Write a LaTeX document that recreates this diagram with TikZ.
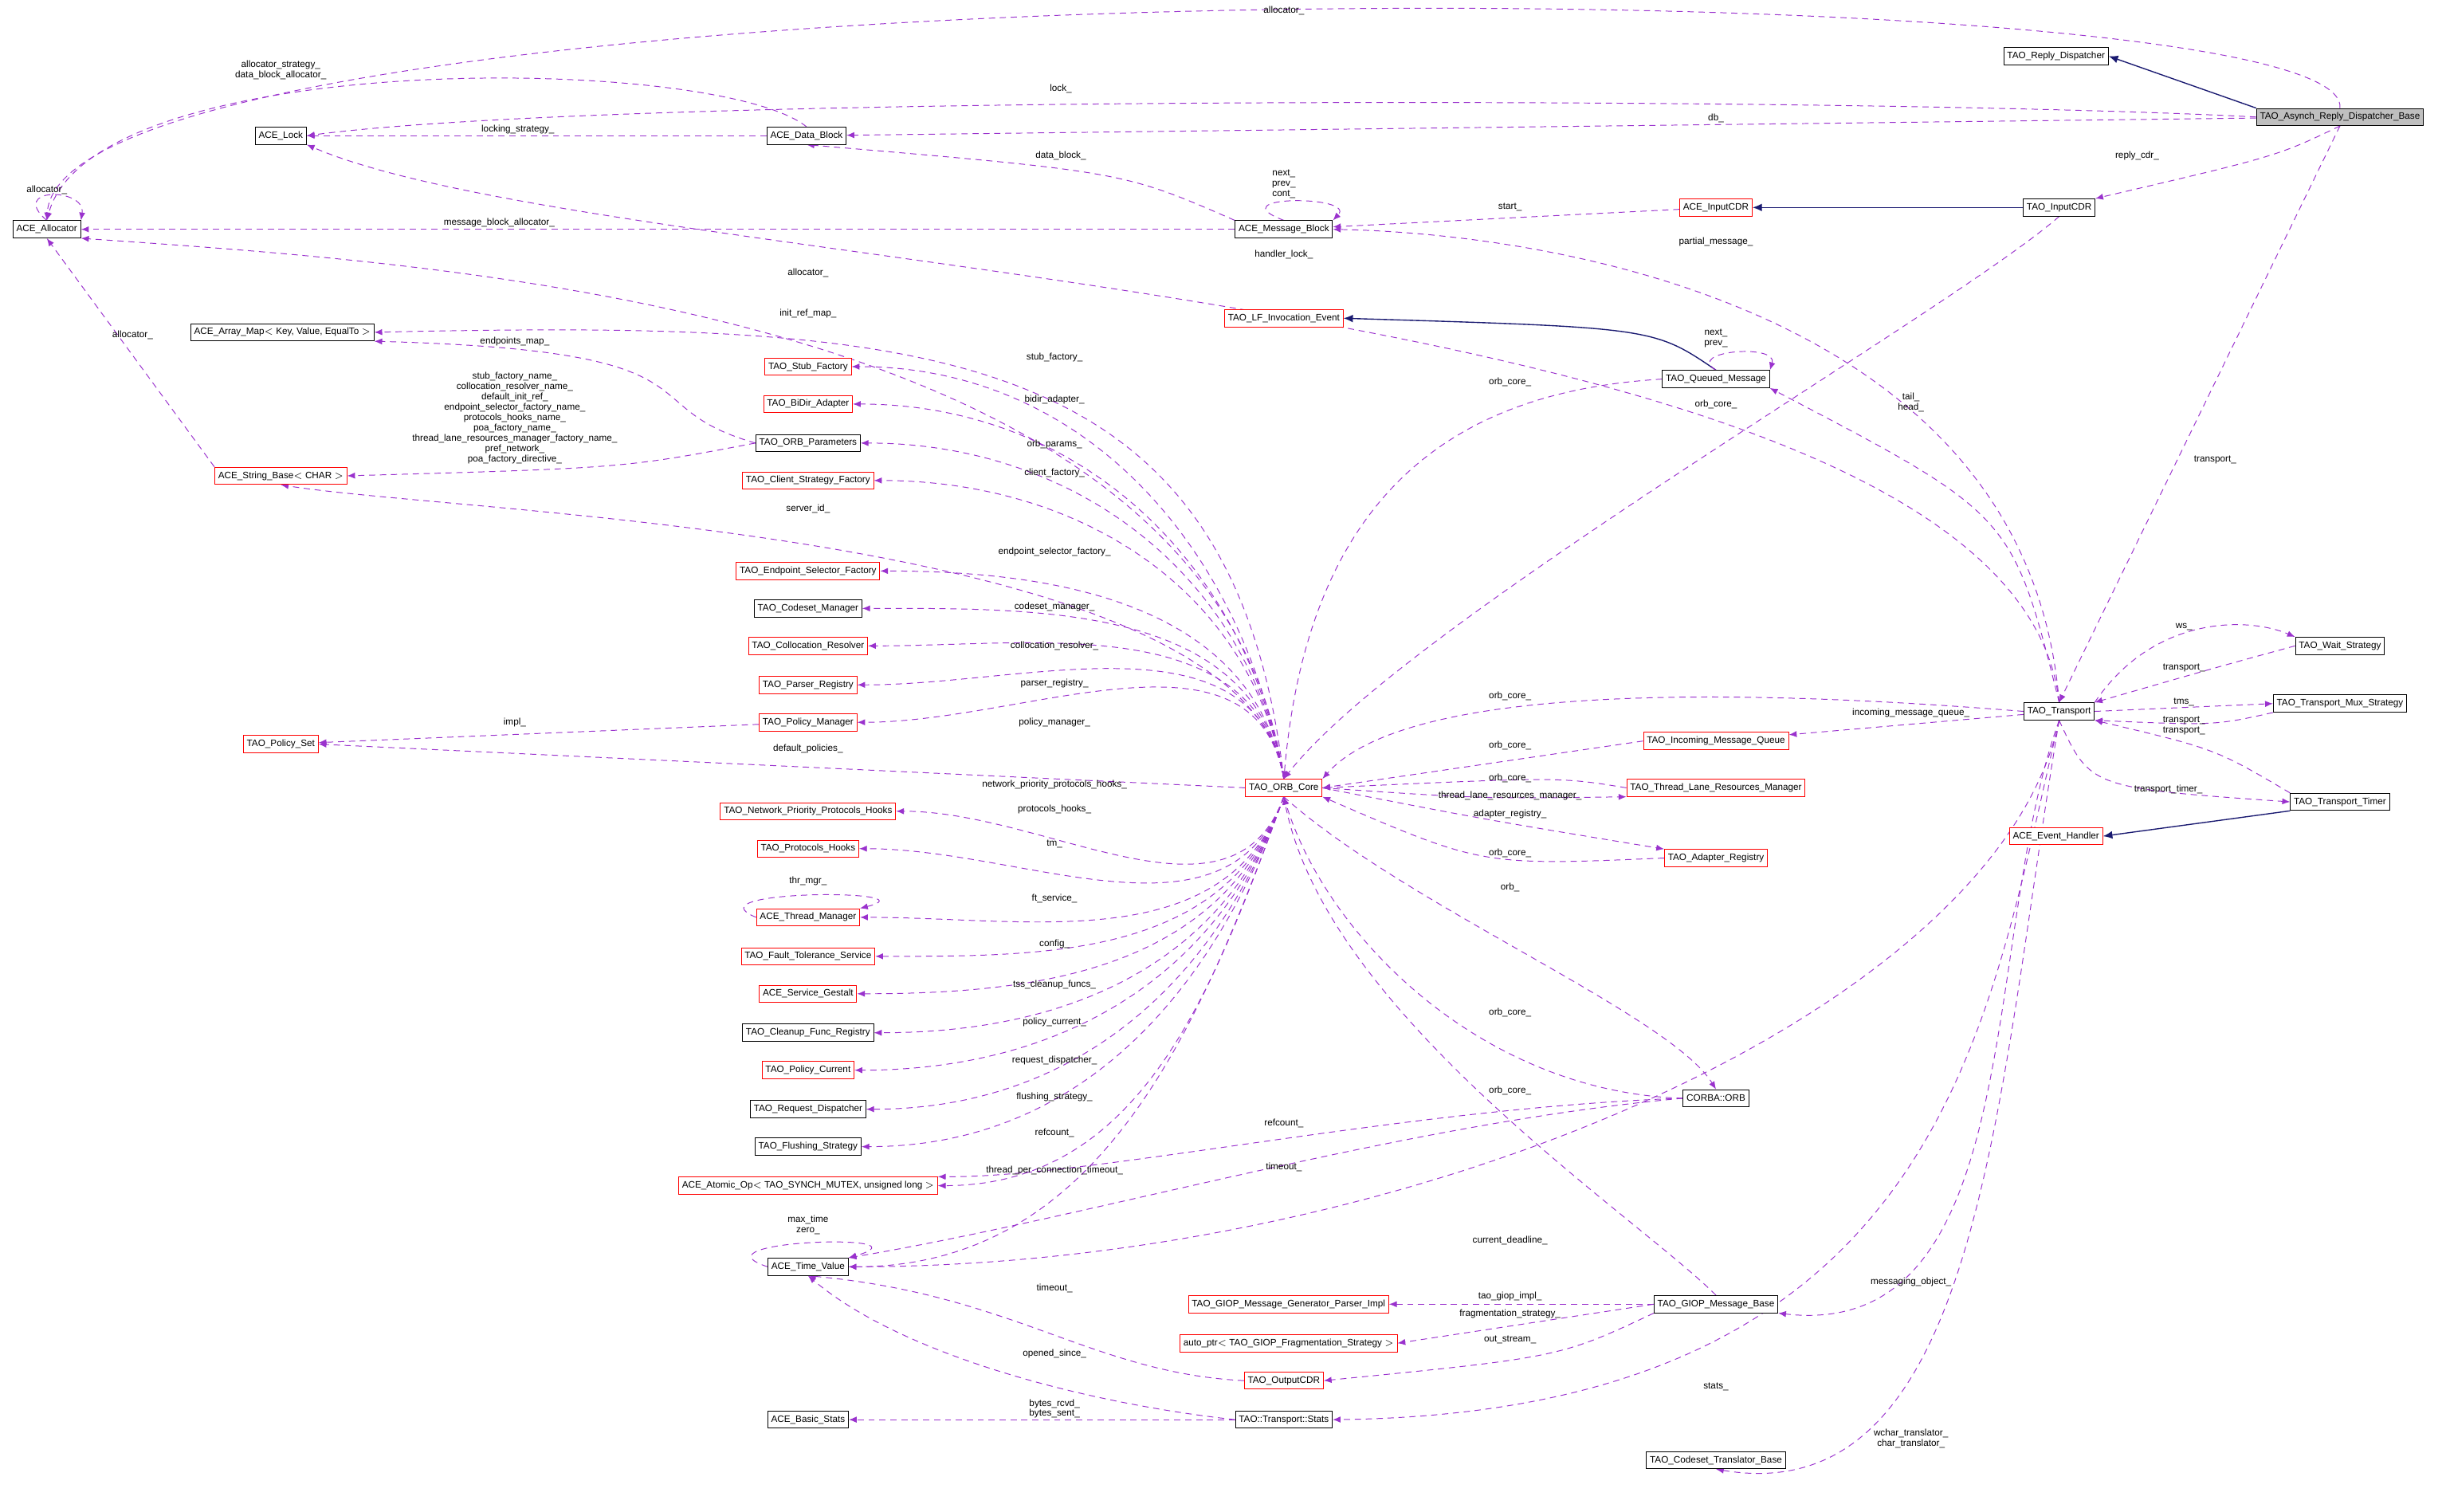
\documentclass[tikz,border=0pt]{standalone}
\usepackage{fontspec}
\setmainfont{Liberation Sans}
\usetikzlibrary{arrows.meta}
\definecolor{dep}{HTML}{9A32CD}
\definecolor{inh}{HTML}{191970}
\pgfdeclarelayer{bg}
\pgfsetlayers{bg,main}
\tikzset{
 box/.style={draw=black,line width=0.5pt,font=\fontsize{6}{7}\selectfont,inner sep=2.2pt,minimum height=11pt,fill=white},
 rbox/.style={box,draw=red},
 dep/.style={draw=dep,dashed,dash pattern=on 4pt off 3pt,line width=0.5pt,-{Latex[length=5pt,width=4pt]}},
 inh/.style={draw=inh,line width=0.7pt,-{Latex[length=6pt,width=5pt]}},
 lbl/.style={font=\fontsize{6}{6.6}\selectfont,align=center,inner sep=0.5pt}
}
\begin{document}
\begin{tikzpicture}[x=1pt,y=-1pt]
\useasboundingbox (0,0) rectangle (1568,969);
% nodes
\node[box] (alloc) at (30,147) {ACE\_Allocator};
\node[box] (lock) at (180,87) {ACE\_Lock};
\node[box] (datab) at (517,87) {ACE\_Data\_Block};
\node[box] (msgb) at (823,147) {ACE\_Message\_Block};
\node[box] (reply) at (1318,36) {TAO\_Reply\_Dispatcher};
\node[box,fill=gray!50] (asynch) at (1500,75) {TAO\_Asynch\_Reply\_Dispatcher\_Base};
\node[rbox] (aincdr) at (1100,133) {ACE\_InputCDR};
\node[box] (tincdr) at (1320,133) {TAO\_InputCDR};
\node[rbox] (lfev) at (823,204) {TAO\_LF\_Invocation\_Event};
\node[box] (amap) at (181,213) {ACE\_Array\_Map$<$ Key, Value, EqualTo $>$};
\node[rbox] (stubf) at (518,235) {TAO\_Stub\_Factory};
\node[rbox] (bidir) at (518,259) {TAO\_BiDir\_Adapter};
\node[box] (orbp) at (518,284) {TAO\_ORB\_Parameters};
\node[rbox] (strb) at (180,305) {ACE\_String\_Base$<$ CHAR $>$};
\node[rbox] (clientf) at (518,308) {TAO\_Client\_Strategy\_Factory};
\node[box] (qmsg) at (1100,243) {TAO\_Queued\_Message};
\node[rbox] (epsel) at (518,366) {TAO\_Endpoint\_Selector\_Factory};
\node[box] (codeset) at (518,390) {TAO\_Codeset\_Manager};
\node[rbox] (colloc) at (518,414) {TAO\_Collocation\_Resolver};
\node[rbox] (parser) at (518,439) {TAO\_Parser\_Registry};
\node[rbox] (polman) at (518,463) {TAO\_Policy\_Manager};
\node[rbox] (polset) at (180,477) {TAO\_Policy\_Set};
\node[rbox] (core) at (823,505) {TAO\_ORB\_Core};
\node[rbox] (netprio) at (518,520) {TAO\_Network\_Priority\_Protocols\_Hooks};
\node[rbox] (prothk) at (518,544) {TAO\_Protocols\_Hooks};
\node[rbox] (thrm) at (518,588) {ACE\_Thread\_Manager};
\node[rbox] (ft) at (518,613) {TAO\_Fault\_Tolerance\_Service};
\node[rbox] (gest) at (518,637) {ACE\_Service\_Gestalt};
\node[box] (cleanup) at (518,662) {TAO\_Cleanup\_Func\_Registry};
\node[rbox] (polcur) at (518,686) {TAO\_Policy\_Current};
\node[box] (reqd) at (518,711) {TAO\_Request\_Dispatcher};
\node[box] (flush) at (518,735) {TAO\_Flushing\_Strategy};
\node[rbox] (atomic) at (518,760) {ACE\_Atomic\_Op$<$ TAO\_SYNCH\_MUTEX, unsigned long $>$};
\node[box] (tv) at (518,812) {ACE\_Time\_Value};
\node[rbox] (gen) at (826,836) {TAO\_GIOP\_Message\_Generator\_Parser\_Impl};
\node[rbox] (autop) at (826,861) {auto\_ptr$<$ TAO\_GIOP\_Fragmentation\_Strategy $>$};
\node[rbox] (outcdr) at (823,885) {TAO\_OutputCDR};
\node[box] (basic) at (518,910) {ACE\_Basic\_Stats};
\node[box] (stats) at (823,910) {TAO::Transport::Stats};
\node[box] (giop) at (1100,836) {TAO\_GIOP\_Message\_Base};
\node[box] (cstr) at (1100,936) {TAO\_Codeset\_Translator\_Base};
\node[box] (orb) at (1100,704) {CORBA::ORB};
\node[rbox] (inq) at (1100,475) {TAO\_Incoming\_Message\_Queue};
\node[rbox] (tlrm) at (1100,505) {TAO\_Thread\_Lane\_Resources\_Manager};
\node[rbox] (adreg) at (1100,550) {TAO\_Adapter\_Registry};
\node[box] (tr) at (1320,456) {TAO\_Transport};
\node[box] (wait) at (1500,414) {TAO\_Wait\_Strategy};
\node[box] (mux) at (1500,451) {TAO\_Transport\_Mux\_Strategy};
\node[box] (timer) at (1500,514) {TAO\_Transport\_Timer};
\node[rbox] (evh) at (1318,536) {ACE\_Event\_Handler};
\begin{pgfonlayer}{bg}
% inheritance
\draw[inh] (asynch.north west) -- (reply.east);
\draw[inh] (tincdr) -- (aincdr);
\draw[inh] (qmsg.north) .. controls (1060,210) .. (lfev.east);
\draw[inh] (timer.south west) -- (evh.east);
% dependencies
\draw[dep] (asynch.north) .. controls (1510,-25) and (40,-25) .. (alloc.north);
\draw[dep] (asynch.west) .. controls (1200,62) and (400,60) .. (lock.east);
\draw[dep] (asynch) -- (datab);
\draw[dep] (asynch.south) .. controls (1460,100) .. (tincdr.north east);
\draw[dep] (asynch.south) -- (tr.north);
\draw[dep] (datab.north) .. controls (460,35) and (60,30) .. (alloc.north);
\draw[dep] (datab) -- (lock);
\draw[dep] (msgb.north west) .. controls (720,110) .. (datab.south);
\draw[dep] (msgb.north) .. controls (780,125) and (870,125) .. (msgb.north east);
\draw[dep] (msgb) -- (alloc);
\draw[dep] (alloc.north) .. controls (5,120) and (55,120) .. (alloc.north east);
\draw[dep] (aincdr) -- (msgb);
\draw[dep] (tincdr.south) .. controls (1250,200) and (900,400) .. (core.north);
\draw[dep] (tr.north) .. controls (1300,200) and (1000,150) .. (msgb.east);
\draw[dep] (tr.north) .. controls (1290,180) and (400,180) .. (lock.south east);
\draw[dep] (core.north) .. controls (780,200) and (300,170) .. (alloc.south east);
\draw[dep] (core.north) .. controls (790,220) and (600,205) .. (amap.east);
\draw[dep] (orbp.west) .. controls (400,260) and (470,225) .. (amap.south east);
\draw[dep] (orbp.west) .. controls (400,300) .. (strb.east);
\draw[dep] (strb.north west) -- (alloc.south);
\draw[dep] (core.north) .. controls (800,340) and (300,330) .. (strb.south);
\draw[dep] (qmsg.north) .. controls (1080,225) and (1140,220) .. (qmsg.north east);
\draw[dep] (qmsg.west) .. controls (950,250) and (840,300) .. (core.north);
\draw[dep] (tr.north) .. controls (1290,330) .. (qmsg.south east);
\foreach \t in {stubf,bidir,orbp,clientf,epsel,codeset,colloc,parser,polman}
 { \draw[dep] (core.north) to[out=100,in=0] (\t.east); }
\foreach \t in {netprio,prothk,thrm,ft,gest,cleanup,polcur,reqd,flush,atomic,tv}
 { \draw[dep] (core.south) to[out=250,in=0] (\t.east); }
\draw[dep] (core.west) -- (polset.east);
\draw[dep] (polman) -- (polset);
\draw[dep] (thrm.west) .. controls (440,570) and (600,570) .. (thrm.north east);
\draw[dep] (orb.west) .. controls (900,710) and (700,755) .. (atomic.north east);
\draw[dep] (orb.west) .. controls (950,700) and (850,600) .. (core.south);
\draw[dep] (core.south) .. controls (900,580) and (1070,650) .. (orb.north);
\draw[dep] (orb.west) .. controls (900,720) and (700,780) .. (tv.north east);
\draw[dep] (tr.south) .. controls (1280,650) and (900,812) .. (tv.east);
\draw[dep] (tv.west) .. controls (440,795) and (600,790) .. (tv.north east);
\draw[dep] (outcdr.west) .. controls (700,880) and (650,830) .. (tv.south);
\draw[dep] (stats.west) .. controls (700,900) and (580,870) .. (tv.south);
\draw[dep] (stats) -- (basic);
\draw[dep] (giop) -- (gen);
\draw[dep] (giop.west) -- (autop.east);
\draw[dep] (giop.south west) .. controls (1000,870) .. (outcdr.east);
\draw[dep] (giop.north) .. controls (1050,780) and (850,650) .. (core.south);
\draw[dep] (tr.south) .. controls (1270,600) and (1300,860) .. (giop.south east);
\draw[dep] (tr.south) .. controls (1275,650) and (1250,905) .. (stats.east);
\draw[dep] (tr.south) .. controls (1280,700) and (1270,970) .. (cstr.south);
\draw[dep] (tr.west) .. controls (1100,440) and (900,440) .. (core.north east);
\draw[dep] (tr) -- (inq);
\draw[dep] (inq.west) -- (core.east);
\draw[dep] (tlrm.west) .. controls (1000,498) .. (core.east);
\draw[dep] (core.east) .. controls (950,512) .. (tlrm.south west);
\draw[dep] (core.east) .. controls (950,525) .. (adreg.north west);
\draw[dep] (adreg.west) .. controls (950,555) .. (core.south east);
\draw[dep] (tr.north east) .. controls (1380,395) and (1440,395) .. (wait.north west);
\draw[dep] (wait.west) .. controls (1420,428) .. (tr.north east);
\draw[dep] (tr.east) -- (mux.west);
\draw[dep] (mux.south west) .. controls (1420,465) .. (tr.south east);
\draw[dep] (tr.south) .. controls (1340,505) .. (timer.west);
\draw[dep] (timer.north west) .. controls (1420,480) .. (tr.south east);
\end{pgfonlayer}
% labels
\node[lbl] (l1) at (823,7) {allocator\_};
\node[lbl] (l2) at (680,57) {lock\_};
\node[lbl] (l3) at (1100,76) {db\_};
\node[lbl] (l4) at (1370,100) {reply\_cdr\_};
\node[lbl] (l5) at (1420,295) {transport\_};
\node[lbl] (l6) at (180,45) {allocator\_strategy\_\\data\_block\_allocator\_};
\node[lbl] (l7) at (332,83) {locking\_strategy\_};
\node[lbl] (l8) at (680,100) {data\_block\_};
\node[lbl] (l9) at (823,118) {next\_\\prev\_\\cont\_};
\node[lbl] (l10) at (320,143) {message\_block\_allocator\_};
\node[lbl] (l11) at (30,122) {allocator\_};
\node[lbl] (l12) at (968,133) {start\_};
\node[lbl] (l13) at (1100,259) {orb\_core\_};
\node[lbl] (l14) at (1100,155) {partial\_message\_};
\node[lbl] (l15) at (823,163) {handler\_lock\_};
\node[lbl] (l16) at (518,175) {allocator\_};
\node[lbl] (l17) at (518,201) {init\_ref\_map\_};
\node[lbl] (l18) at (330,219) {endpoints\_map\_};
\node[lbl] (l19) at (330,268) {stub\_factory\_name\_\\collocation\_resolver\_name\_\\default\_init\_ref\_\\endpoint\_selector\_factory\_name\_\\protocols\_hooks\_name\_\\poa\_factory\_name\_\\thread\_lane\_resources\_manager\_factory\_name\_\\pref\_network\_\\poa\_factory\_directive\_};
\node[lbl] (l20) at (85,215) {allocator\_};
\node[lbl] (l21) at (518,326) {server\_id\_};
\node[lbl] (l22) at (1100,217) {next\_\\prev\_};
\node[lbl] (l23) at (968,245) {orb\_core\_};
\node[lbl] (l24) at (1225,258) {tail\_\\head\_};
\foreach \l/\y in {stub\_factory\_/229, bidir\_adapter\_/256, orb\_params\_/285, client\_factory\_/303, endpoint\_selector\_factory\_/354, codeset\_manager\_/389, collocation\_resolver\_/414, parser\_registry\_/438, policy\_manager\_/463, network\_priority\_protocols\_hooks\_/503, protocols\_hooks\_/519, tm\_/541, ft\_service\_/576, config\_/605, tss\_cleanup\_funcs\_/631, policy\_current\_/655, request\_dispatcher\_/680, flushing\_strategy\_/703, refcount\_/726, thread\_per\_connection\_timeout\_/750}
 { \node[lbl] at (676,\y) {\l}; }
\node[lbl] (l25) at (518,480) {default\_policies\_};
\node[lbl] (l26) at (330,463) {impl\_};
\node[lbl] (l27) at (518,565) {thr\_mgr\_};
\node[lbl] (l28) at (823,720) {refcount\_};
\node[lbl] (l29) at (968,649) {orb\_core\_};
\node[lbl] (l30) at (968,569) {orb\_};
\node[lbl] (l31) at (823,748) {timeout\_};
\node[lbl] (l32) at (968,795) {current\_deadline\_};
\node[lbl] (l33) at (518,785) {max\_time\\zero\_};
\node[lbl] (l34) at (676,826) {timeout\_};
\node[lbl] (l35) at (676,868) {opened\_since\_};
\node[lbl] (l36) at (676,903) {bytes\_rcvd\_\\bytes\_sent\_};
\node[lbl] (l37) at (968,831) {tao\_giop\_impl\_};
\node[lbl] (l38) at (968,842) {fragmentation\_strategy\_};
\node[lbl] (l39) at (968,859) {out\_stream\_};
\node[lbl] (l40) at (968,699) {orb\_core\_};
\node[lbl] (l41) at (1225,822) {messaging\_object\_};
\node[lbl] (l42) at (1100,889) {stats\_};
\node[lbl] (l43) at (1225,922) {wchar\_translator\_\\char\_translator\_};
\node[lbl] (l44) at (968,446) {orb\_core\_};
\node[lbl] (l45) at (1225,457) {incoming\_message\_queue\_};
\node[lbl] (l46) at (968,478) {orb\_core\_};
\node[lbl] (l47) at (968,499) {orb\_core\_};
\node[lbl] (l48) at (968,510) {thread\_lane\_resources\_manager\_};
\node[lbl] (l49) at (968,522) {adapter\_registry\_};
\node[lbl] (l50) at (968,547) {orb\_core\_};
\node[lbl] (l51) at (1400,402) {ws\_};
\node[lbl] (l52) at (1400,428) {transport\_};
\node[lbl] (l53) at (1400,450) {tms\_};
\node[lbl] (l54) at (1400,465) {transport\_\\transport\_};
\node[lbl] (l55) at (1390,506) {transport\_timer\_};
\end{tikzpicture}
\end{document}
